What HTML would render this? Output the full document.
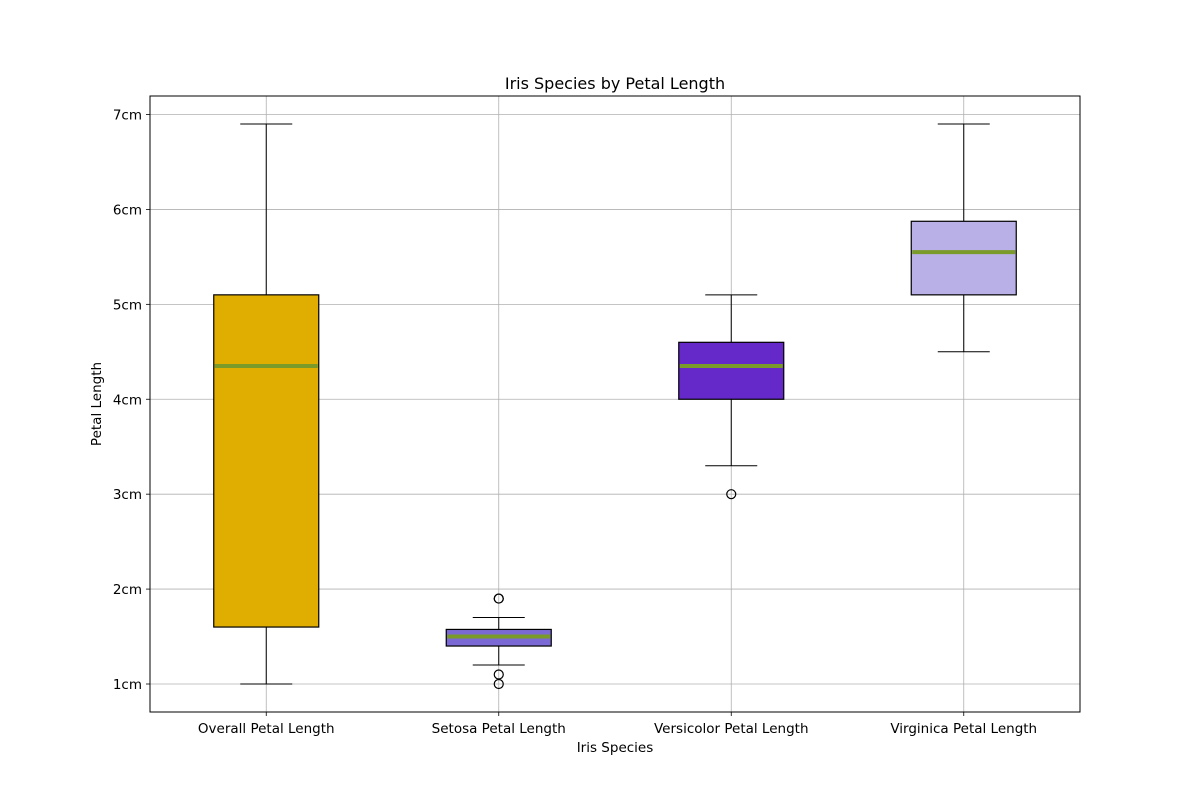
<!DOCTYPE html>
<html><head><meta charset="utf-8"><style>body{margin:0;background:#fff}svg text{font-family:"DejaVu Sans","Liberation Sans",sans-serif}</style></head>
<body>
<svg id="chart" width="1200" height="800" xmlns="http://www.w3.org/2000/svg"></svg>
<script>
const categories=["Overall Petal Length","Setosa Petal Length","Versicolor Petal Length","Virginica Petal Length"];
const whiskerLow=[1.0,1.2,3.3,4.5];
const q1=[1.6,1.4,4.0,5.1];
const medians=[4.35,1.5,4.35,5.55];
const q3=[5.1,1.575,4.6,5.875];
const whiskerHigh=[6.9,1.7,5.1,6.9];
const outliers=[[],[1.9,1.9,1.1,1.0],[3.0],[]];
const fills=["#e0ae00","#7b6ad6","#6429c8","#b8b0e6"];
const yTicks=[1,2,3,4,5,6,7];
const yTickLabels=["1cm","2cm","3cm","4cm","5cm","6cm","7cm"];

const L=150,R=1080,T=96,B=712,yMin=0.705,yMax=7.195;
const y=v=>B-(v-yMin)/(yMax-yMin)*(B-T);
const x=i=>L+(i+0.5)*(R-L)/categories.length;
const bw=105;
const svg=document.getElementById('chart');
const NS="http://www.w3.org/2000/svg";
function mk(tag,attrs,parent){const e=document.createElementNS(NS,tag);for(const k in attrs)e.setAttribute(k,attrs[k]);(parent||svg).appendChild(e);return e;}

const grid=mk('g',{});


yTicks.forEach((t,i)=>{
  mk('line',{x1:L,x2:R,y1:y(t),y2:y(t),stroke:'#b0b0b0','stroke-width':0.8},grid);
  mk('line',{x1:L-4,x2:L,y1:y(t),y2:y(t),stroke:'#000','stroke-width':0.8},grid);
  const tx=mk('text',{x:L-8,y:y(t)+5,'text-anchor':'end','font-size':13.5},grid);
  tx.textContent=yTickLabels[i];
  
  
});
categories.forEach((c,i)=>{
  mk('line',{x1:x(i),x2:x(i),y1:T,y2:B,stroke:'#b0b0b0','stroke-width':0.8},grid);
  mk('line',{x1:x(i),x2:x(i),y1:B,y2:B+4,stroke:'#000','stroke-width':0.8},grid);
  const tx=mk('text',{x:x(i),y:B+21,'text-anchor':'middle','font-size':13.5},grid);
  tx.textContent=c;
  
  
});
categories.forEach((c,i)=>{
  const g=mk('g',{});
  
  
  const cx=x(i);
  mk('line',{x1:cx,x2:cx,y1:y(whiskerLow[i]),y2:y(q1[i]),stroke:'#000'},g);
  mk('line',{x1:cx,x2:cx,y1:y(q3[i]),y2:y(whiskerHigh[i]),stroke:'#000'},g);
  mk('line',{x1:cx-26,x2:cx+26,y1:y(whiskerLow[i]),y2:y(whiskerLow[i]),stroke:'#000'},g);
  mk('line',{x1:cx-26,x2:cx+26,y1:y(whiskerHigh[i]),y2:y(whiskerHigh[i]),stroke:'#000'},g);
  mk('rect',{x:cx-bw/2,y:y(q3[i]),width:bw,height:y(q1[i])-y(q3[i]),fill:fills[i],stroke:'#000','stroke-width':1.2},g);
  mk('line',{x1:cx-bw/2+1,x2:cx+bw/2-1,y1:y(medians[i]),y2:y(medians[i]),stroke:'#7a9a2a','stroke-width':4},g);
  outliers[i].forEach(o=>mk('circle',{cx:cx,cy:y(o),r:4.5,fill:'none',stroke:'#000','stroke-width':1.2},g));
});
const frame=mk('rect',{x:L,y:T,width:R-L,height:B-T,fill:'none',stroke:'#000','stroke-width':1});


const title=mk('text',{x:(L+R)/2,y:89,'text-anchor':'middle','font-size':16});
title.textContent='Iris Species by Petal Length';


const xt=mk('text',{x:(L+R)/2,y:752,'text-anchor':'middle','font-size':13.5});
xt.textContent='Iris Species';


const yt=mk('text',{x:101,y:(T+B)/2,'text-anchor':'middle','font-size':13.5,transform:`rotate(-90 101 ${(T+B)/2})`});
yt.textContent='Petal Length';


</script>
</body></html>
